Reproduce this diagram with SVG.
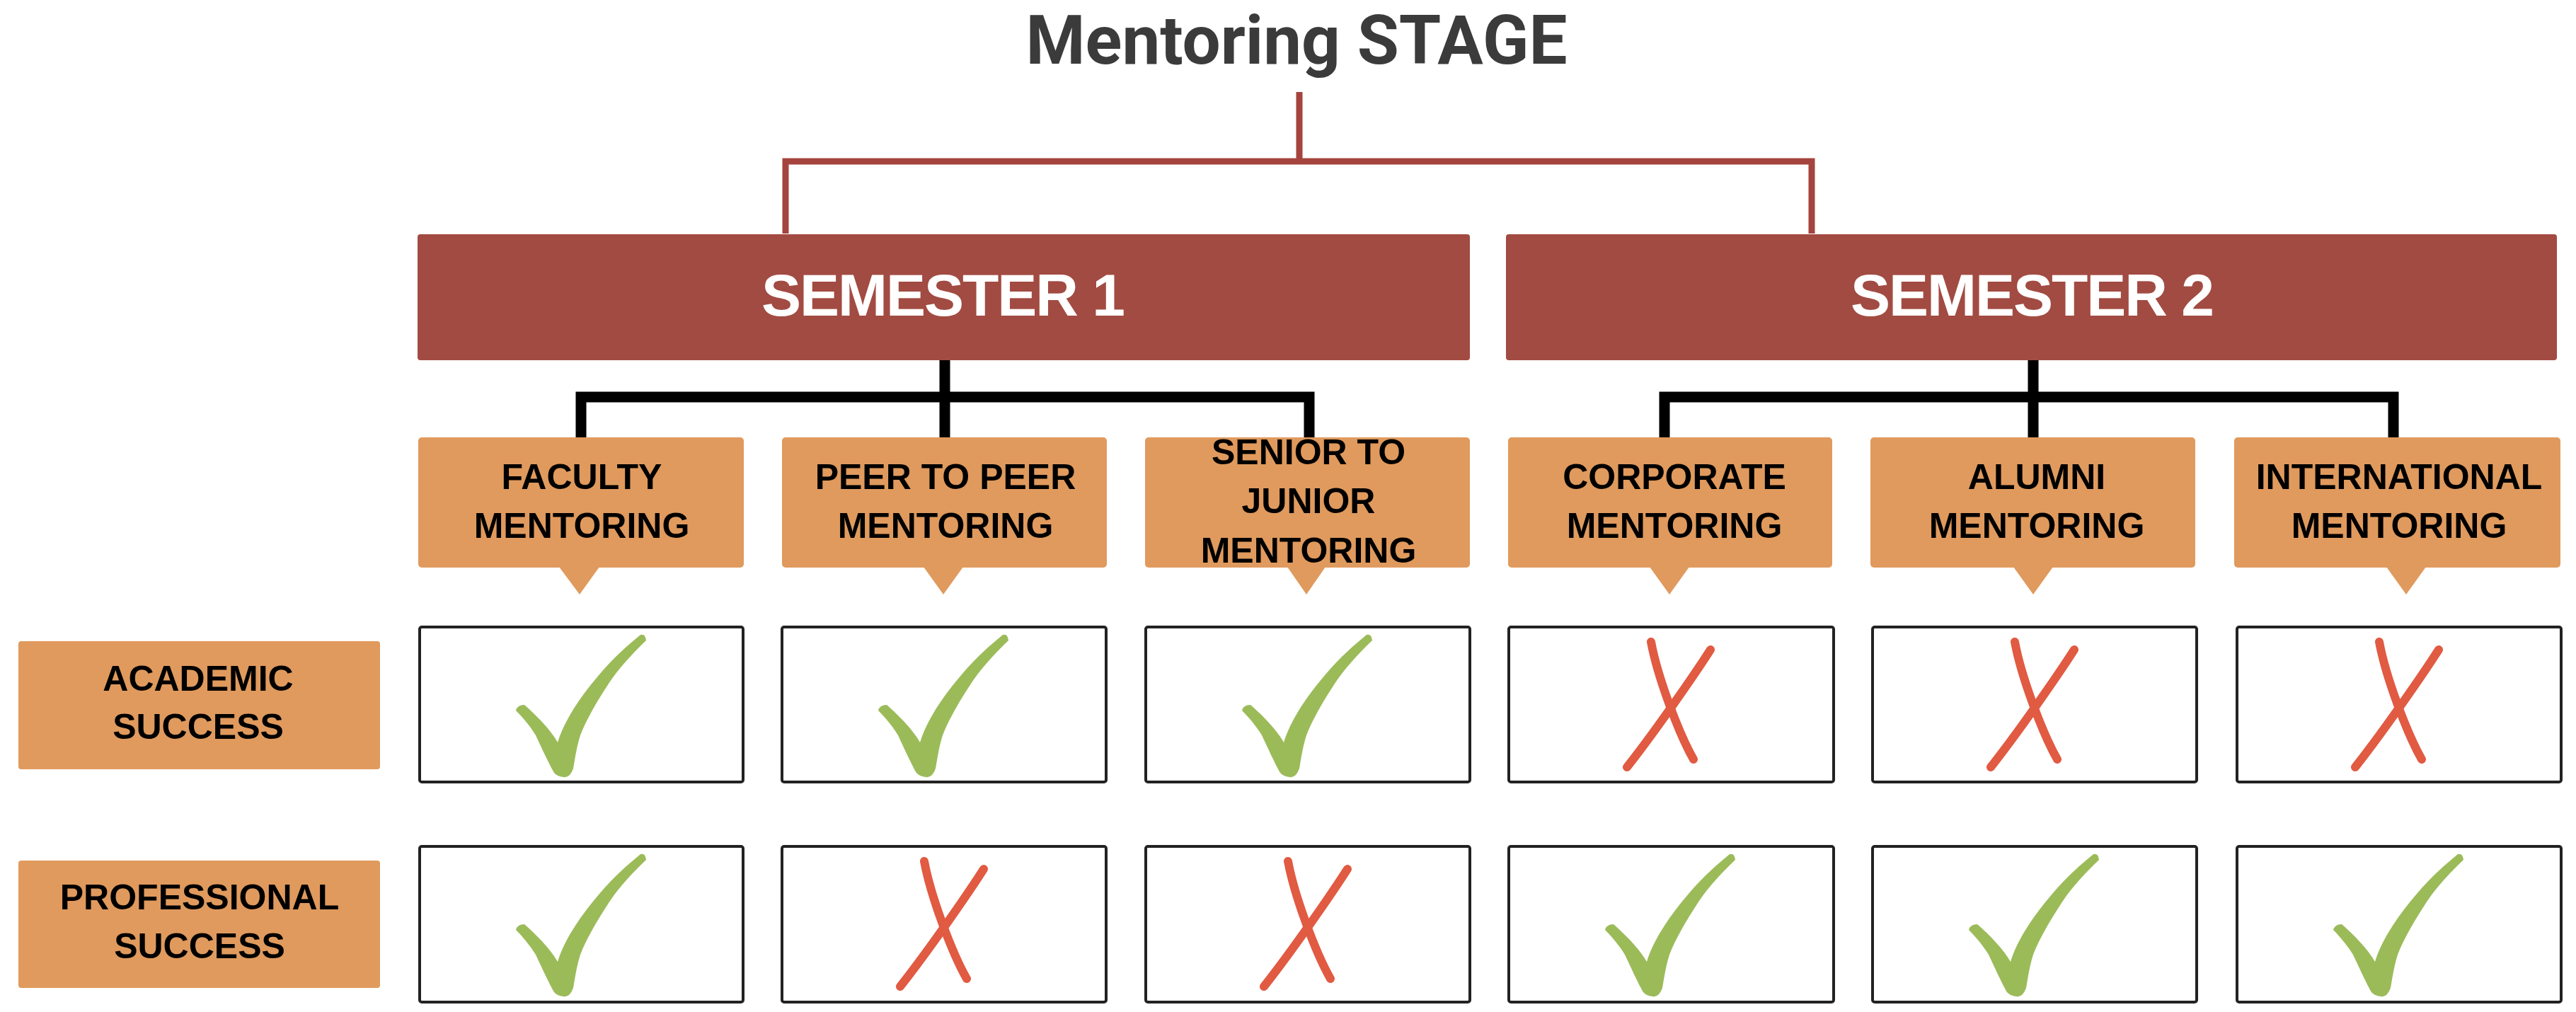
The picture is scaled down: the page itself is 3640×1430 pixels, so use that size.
<svg xmlns="http://www.w3.org/2000/svg" xmlns:xlink="http://www.w3.org/1999/xlink" width="3640" height="1430" viewBox="0 0 3640 1430">
<style>
.title{font-family:Roboto,"Open Sans","Liberation Sans",sans-serif;font-weight:700;font-size:96px;fill:#3b3b3b;text-anchor:middle}
.sem{fill:#A24B42}
.semt{font-family:"Liberation Sans",Arial,sans-serif;font-weight:700;font-size:84px;fill:#ffffff;text-anchor:middle;letter-spacing:-2px}
.box{fill:#E09A5D}
.lbl{font-family:"Liberation Sans",Arial,sans-serif;font-weight:700;font-size:50px;fill:#000000;text-anchor:middle}
.cell{fill:#ffffff;stroke:#222222;stroke-width:4}
.red{fill:none;stroke:#A5443E;stroke-width:9}
.blk{fill:none;stroke:#000000;stroke-width:15}
.x{fill:none;stroke:#E15A42;stroke-width:12;stroke-linecap:round}
.ck{fill:#9BBB59}
</style>
<defs>
<path id="check" class="ck" d="M136 118 Q138 110 148 110 C165 125 185 145 195 163 C205 130 230 95 254 67 C275 42 295 25 312 11 Q319 9 320 19 C300 38 280 60 267 80 C250 106 236 130 227 153 C221 172 219 190 217 200 Q212 214 203 212 Q194 211 190 206 C184 196 172 170 164 153 C156 140 146 128 136 118 Z"/>
<g id="cross"><path class="x" d="M201 21 C210 70 240 150 261 187"/><path class="x" d="M285 32 C262 68 205 150 167 198"/></g>
</defs>
<rect width="3640" height="1430" fill="#ffffff"/>
<g id="title"><text class="title" x="1832" y="90">Mentoring STAGE</text></g>
<g id="connectors">
<path class="red" d="M1836 130 V228"/>
<path class="red" d="M1110 330 V228 H2560 V330"/>
<path class="blk" d="M1335 509 V618"/>
<path class="blk" d="M821 618 V561 H1850 V618"/>
<path class="blk" d="M2873 509 V618"/>
<path class="blk" d="M2352 618 V561 H3382 V618"/>
</g>
<g id="semester1"><rect class="sem" x="590" y="331" width="1487" height="178" rx="4"/><text class="semt" x="1332" y="446">SEMESTER 1</text></g>
<g id="semester2"><rect class="sem" x="2128" y="331" width="1485" height="178" rx="4"/><text class="semt" x="2871" y="446">SEMESTER 2</text></g>
<g id="faculty"><rect class="box" x="591" y="618" width="460" height="184" rx="5"/><path class="box" d="M790 801 L847 801 L819 840 Z"/><text class="lbl" x="822" y="691">FACULTY</text><text class="lbl" x="822" y="760">MENTORING</text></g>
<g id="peer"><rect class="box" x="1105" y="618" width="459" height="184" rx="5"/><path class="box" d="M1305 801 L1361 801 L1333 840 Z"/><text class="lbl" x="1336" y="691">PEER TO PEER</text><text class="lbl" x="1336" y="760">MENTORING</text></g>
<g id="senior"><rect class="box" x="1618" y="618" width="459" height="184" rx="5"/><path class="box" d="M1819 801 L1873 801 L1846 840 Z"/><text class="lbl" x="1849" y="656">SENIOR TO</text><text class="lbl" x="1849" y="725">JUNIOR</text><text class="lbl" x="1849" y="795">MENTORING</text></g>
<g id="corporate"><rect class="box" x="2131" y="618" width="458" height="184" rx="5"/><path class="box" d="M2331 801 L2387 801 L2359 840 Z"/><text class="lbl" x="2366" y="691">CORPORATE</text><text class="lbl" x="2366" y="760">MENTORING</text></g>
<g id="alumni"><rect class="box" x="2643" y="618" width="459" height="184" rx="5"/><path class="box" d="M2845 801 L2901 801 L2873 840 Z"/><text class="lbl" x="2878" y="691">ALUMNI</text><text class="lbl" x="2878" y="760">MENTORING</text></g>
<g id="international"><rect class="box" x="3157" y="618" width="461" height="184" rx="5"/><path class="box" d="M3372 801 L3428 801 L3400 840 Z"/><text class="lbl" x="3390" y="691">INTERNATIONAL</text><text class="lbl" x="3390" y="760">MENTORING</text></g>
<g id="academic"><rect class="box" x="26" y="906" width="511" height="181" rx="4"/><text class="lbl" x="280" y="976">ACADEMIC</text><text class="lbl" x="280" y="1044">SUCCESS</text></g>
<g id="professional"><rect class="box" x="26" y="1216" width="511" height="180" rx="4"/><text class="lbl" x="282" y="1285">PROFESSIONAL</text><text class="lbl" x="282" y="1354">SUCCESS</text></g>
<g id="row-academic">
<g transform="translate(593 886)"><rect class="cell" width="457" height="219" rx="3"/><use xlink:href="#check"/></g>
<g transform="translate(1105 886)"><rect class="cell" width="458" height="219" rx="3"/><use xlink:href="#check"/></g>
<g transform="translate(1619 886)"><rect class="cell" width="458" height="219" rx="3"/><use xlink:href="#check"/></g>
<g transform="translate(2132 886)"><rect class="cell" width="459" height="219" rx="3"/><use xlink:href="#cross"/></g>
<g transform="translate(2646 886)"><rect class="cell" width="458" height="219" rx="3"/><use xlink:href="#cross"/></g>
<g transform="translate(3161 886)"><rect class="cell" width="458" height="219" rx="3"/><use xlink:href="#cross"/></g>
</g>
<g id="row-professional">
<g transform="translate(593 1196)"><rect class="cell" width="457" height="220" rx="3"/><use xlink:href="#check"/></g>
<g transform="translate(1105 1196)"><rect class="cell" width="458" height="220" rx="3"/><use xlink:href="#cross"/></g>
<g transform="translate(1619 1196)"><rect class="cell" width="458" height="220" rx="3"/><use xlink:href="#cross"/></g>
<g transform="translate(2132 1196)"><rect class="cell" width="459" height="220" rx="3"/><use xlink:href="#check"/></g>
<g transform="translate(2646 1196)"><rect class="cell" width="458" height="220" rx="3"/><use xlink:href="#check"/></g>
<g transform="translate(3161 1196)"><rect class="cell" width="458" height="220" rx="3"/><use xlink:href="#check"/></g>
</g>
</svg>
